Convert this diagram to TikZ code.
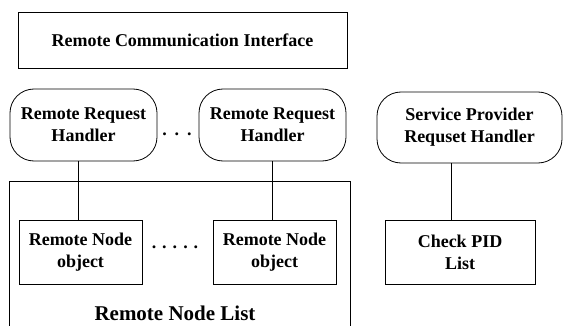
\documentclass[tikz,border=0pt]{standalone}
\usepackage{fontspec}
\setmainfont{Liberation Serif}
\begin{document}
\begin{tikzpicture}[x=1pt,y=-1pt,
  lbl/.style={font=\bfseries\fontsize{18}{22}\selectfont, align=center},
  sqbox/.style={draw, line width=0.8pt, inner sep=0pt, lbl},
  rbox/.style={draw, line width=0.8pt, inner sep=0pt, rounded corners=24pt, lbl},
  dots/.style={font=\bfseries\fontsize{18}{22}\selectfont},
  conn/.style={line width=0.8pt}]
\useasboundingbox (0,0) rectangle (564,326);
% top interface
\node[sqbox, minimum width=329pt, minimum height=56pt] (rci) at (182.5,40) {Remote Communication Interface};
% request handlers
\node[rbox, minimum width=147pt, minimum height=72pt] (rrh1) at (83.5,125) {Remote Request\\Handler};
\node[rbox, minimum width=147pt, minimum height=72pt] (rrh2) at (272.5,125) {Remote Request\\Handler};
\node[rbox, minimum width=185pt, minimum height=71pt] (sprh) at (469.5,127.5) {Service Provider\\Requset Handler};
\node[dots] (d1) at (177,134) {.\hspace{8pt}.\hspace{8pt}.};
% remote node list container
\draw[line width=0.8pt] (9,330) -- (9,181) -- (350,181) -- (350,330);
\node[font=\bfseries\fontsize{21}{24}\selectfont] (rnl) at (175,313) {Remote Node List};
% node objects
\node[sqbox, minimum width=123pt, minimum height=64pt] (rno1) at (80.5,252) {Remote Node\\object};
\node[sqbox, minimum width=123pt, minimum height=64pt] (rno2) at (274.5,252) {Remote Node\\object};
\node[sqbox, minimum width=150pt, minimum height=64pt] (cpl) at (460,252) {Check PID\\List};
\node[dots] (d2) at (175,247) {.\hspace{6pt}.\hspace{6pt}.\hspace{6pt}.\hspace{6pt}.};
% connectors
\draw[conn] (rrh1.south -| rno1.north) ++(-2,0) coordinate (c1) -- (c1 |- rno1.north);
\draw[conn] (rrh2.south) -- (rrh2.south |- rno2.north);
\draw[conn] (sprh.south -| 451,0) coordinate (c3) -- (c3 |- cpl.north);
\end{tikzpicture}
\end{document}
